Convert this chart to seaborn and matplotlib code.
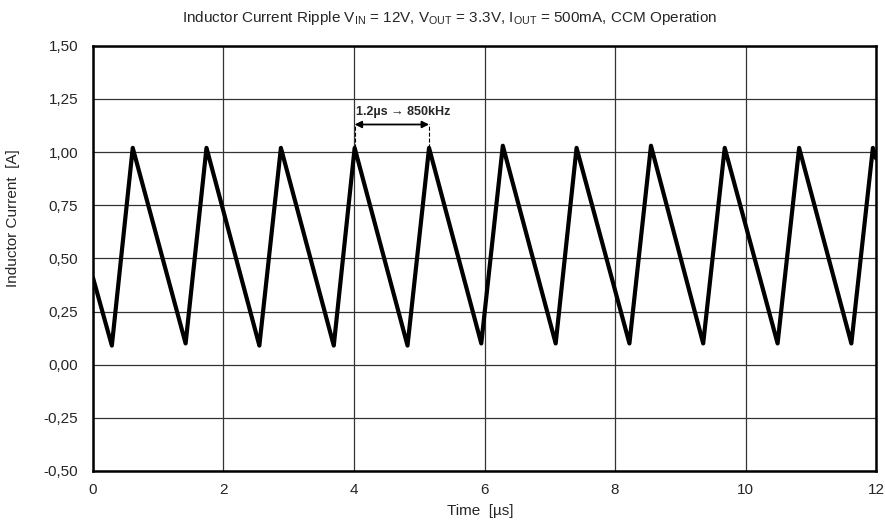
import pandas as pd
import matplotlib.pyplot as plt
import numpy as np
import seaborn as sns

# vertices of the ripple waveform (time in us, current in A)
time_us = [0.00, 0.29, 0.61, 1.42, 1.74, 2.55, 2.88, 3.69, 4.01, 4.82, 5.15,
           5.95, 6.28, 7.09, 7.41, 8.22, 8.55, 9.35, 9.68, 10.49, 10.82, 11.62, 11.95, 12.00]
current_a = [0.41, 0.09, 1.02, 0.10, 1.02, 0.09, 1.02, 0.09, 1.02, 0.09, 1.02,
             0.10, 1.03, 0.10, 1.02, 0.10, 1.03, 0.10, 1.02, 0.10, 1.02, 0.10, 1.02, 0.97]

x_ticks = [0, 2, 4, 6, 8, 10, 12]
y_ticks = [-0.50, -0.25, 0.00, 0.25, 0.50, 0.75, 1.00, 1.25, 1.50]
period_start, period_end = 4.01, 5.15
period_label = '1.2µs → 850kHz'

sns.set_style('white')
plt.rcParams['font.family'] = ['Liberation Sans', 'DejaVu Sans']
plt.rcParams['mathtext.fontset'] = 'custom'
plt.rcParams['mathtext.rm'] = 'Liberation Sans'
plt.rcParams['mathtext.it'] = 'Liberation Sans'

df = pd.DataFrame({'t': time_us, 'i': current_a})

fig = plt.figure(figsize=(8.85, 5.21), dpi=100)
ax = fig.add_axes([0.105, 0.096, 0.885, 0.816])

sns.lineplot(data=df, x='t', y='i', color='black', lw=3, sort=False, ax=ax)
ax.lines[0].set_solid_joinstyle('round')

ax.set_xlim(0, 12)
ax.set_ylim(-0.5, 1.5)
ax.set_xticks(x_ticks)
ax.set_yticks(y_ticks)
ax.set_yticklabels([f'{v:.2f}'.replace('.', ',') for v in y_ticks])
ax.tick_params(axis='y', labelsize=11, length=0, pad=10.5)
ax.tick_params(axis='x', labelsize=11, length=0, pad=9)
ax.grid(True, color='#333333', lw=0.9)
ax.set_axisbelow(True)
for s in ax.spines.values():
    s.set_color('black')
    s.set_linewidth(1.8)

ax.set_xlabel('Time  [µs]', fontsize=11)
ax.set_ylabel('Inductor Current  [A]', fontsize=11)
ax.xaxis.set_label_coords(0.494, -0.078)
ax.yaxis.set_label_coords(-0.093, 0.595)
fig.text(0.5085, 0.965, r'Inductor Current Ripple V$_{\mathrm{IN}}$ = 12V, V$_{\mathrm{OUT}}$ = 3.3V, '
         r'I$_{\mathrm{OUT}}$ = 500mA, CCM Operation', fontsize=11, ha='center', va='center')

# period marker
ax.annotate('', xy=(period_start, 1.13), xytext=(period_end, 1.13),
            arrowprops=dict(arrowstyle='<|-|>', color='black', lw=1.3, mutation_scale=10,
                            shrinkA=0, shrinkB=0))
ax.plot([period_start, period_start], [1.02, 1.13], color='black', lw=0.8, ls='--')
ax.plot([period_end, period_end], [1.02, 1.13], color='black', lw=0.8, ls='--')
ax.text(period_start + 0.02, 1.16, period_label, fontsize=9, fontweight='bold', va='bottom')

plt.savefig('out.png', dpi=100)
